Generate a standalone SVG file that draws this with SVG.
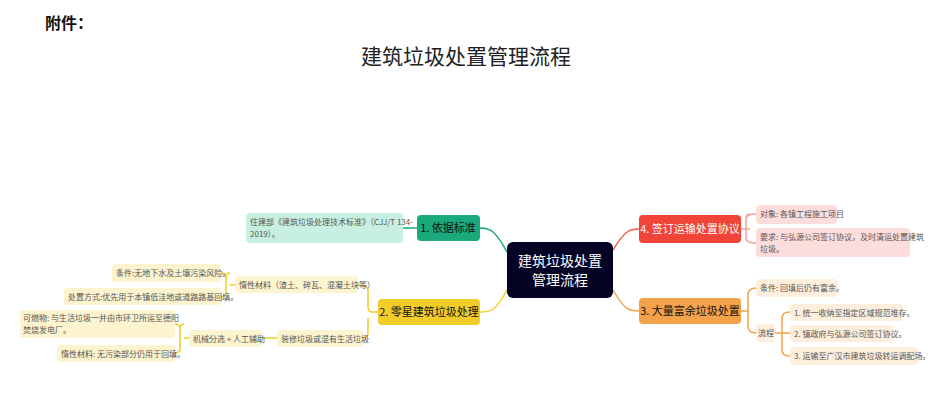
<svg xmlns="http://www.w3.org/2000/svg" width="931" height="419" viewBox="0 0 931 419">
<style>
text{font-family:"Noto Sans CJK SC","Liberation Sans",sans-serif;}
.s{font-size:8px;fill:#555;}
.m{font-size:11px;}
.c{fill:none;stroke-width:1.5;}
</style>
<rect width="931" height="419" fill="#fff"/>
<text x="45" y="29" font-size="16" font-weight="bold" fill="#111">附件：</text>
<text x="466" y="64" font-size="21" text-anchor="middle" fill="#222">建筑垃圾处置管理流程</text>
<g id="connectors">
<path class="c" stroke="#1aa97a" d="M507,252 C495,230 490,228 480,228"/>
<path class="c" stroke="#f2cd2a" d="M507,290 C495,312 490,312 480,312"/>
<path class="c" stroke="#f25a4a" d="M613,250 C625,230 630,229 639,229"/>
<path class="c" stroke="#f4a24a" d="M613,290 C625,311 630,311 639,311"/>
<path class="c" stroke="#1aa97a" d="M417,228 L403,228"/>
<path class="c" stroke="#f2cd2a" d="M378,312 L372,312 Q368,312 368,306 L368,290 Q368,285 358,285 M368,318 L368,333 Q368,338 363,338"/>
<path class="c" stroke="#f2cd2a" d="M235,285 L230,285 M230,273 Q226,273 226,278 L226,292 Q226,297 221,297 M226,278 Q226,273 221,273"/>
<path class="c" stroke="#f2cd2a" d="M277,338 L262,338 M189,338 L184,338 M184,324 Q180,324 180,329 L180,348 Q180,353 175,353 M180,329 Q180,324 175,324"/>
<path class="c" stroke="#f7a0a0" d="M741,229 L750,229 M750,214 Q746,214 746,219 L746,238 Q746,243 756,243 M746,219 Q746,214 756,214"/>
<path class="c" stroke="#f4a24a" d="M741,311 L748,311 M756,288 Q748,288 748,295 L748,326 Q748,333 756,333"/>
<path class="c" stroke="#f4a24a" d="M775,333 L782,333 M790,312 Q782,312 782,318 L782,350 Q782,356 790,356 M782,333 L790,333"/>
</g>
<g id="center"><rect x="507" y="242" width="106" height="56" rx="6" fill="#050425"/>
<text x="560" y="266" font-size="14" fill="#fff" text-anchor="middle">建筑垃圾处置</text><text x="560" y="285" font-size="14" fill="#fff" text-anchor="middle">管理流程</text></g>
<g id="n1"><rect x="417" y="215" width="63" height="26" rx="4" fill="#1aa97a"/><text x="448" y="232" class="m" text-anchor="middle" fill="#111">1. 依据标准</text></g>
<g id="n2"><rect x="378" y="299" width="102" height="26" rx="4" fill="#f2cd2a"/><text x="429" y="316" class="m" text-anchor="middle" fill="#111">2. 零星建筑垃圾处理</text></g>
<g id="n3"><rect x="639" y="298" width="102" height="26" rx="4" fill="#f4a24a"/><text x="690" y="315" class="m" text-anchor="middle" fill="#111">3. 大量富余垃圾处置</text></g>
<g id="n4"><rect x="639" y="215" width="102" height="28" rx="4" fill="#f04438"/><text x="690" y="233" class="m" text-anchor="middle" fill="#fff">4. 签订运输处置协议</text></g>
<g id="l1"><rect x="246" y="213" width="157" height="30" rx="4" fill="#c8f0e2"/><text x="250" y="225" class="s">住建部《建筑垃圾处理技术标准》（CJJ/T 134-</text><text x="250" y="237" class="s">2019）。</text></g>
<g id="l2a"><rect x="235" y="276" width="123" height="17" rx="4" fill="#fcf3cf"/><text x="239" y="288" class="s">惰性材料（渣土、碎瓦、混凝土块等）</text></g>
<g id="l2b"><rect x="277" y="330" width="86" height="17" rx="4" fill="#fcf3cf"/><text x="281" y="342" class="s">装修垃圾或混有生活垃圾</text></g>
<g id="l2a1"><rect x="112" y="264" width="109" height="18" rx="4" fill="#fcf3cf"/><text x="116" y="276" class="s">条件:无地下水及土壤污染风险。</text></g>
<g id="l2a2"><rect x="64" y="288" width="157" height="17" rx="4" fill="#fcf3cf"/><text x="68" y="300" class="s">处置方式:优先用于本镇低洼地或道路路基回填。</text></g>
<g id="l2b1"><rect x="189" y="330" width="73" height="17" rx="4" fill="#fcf3cf"/><text x="193" y="342" class="s">机械分选 + 人工辅助</text></g>
<g id="l2b1a"><rect x="20" y="310" width="155" height="28" rx="4" fill="#fcf3cf"/><text x="23" y="321" class="s">可燃物: 与生活垃圾一并由市环卫所运至德阳</text><text x="23" y="333" class="s">焚烧发电厂。</text></g>
<g id="l2b1b"><rect x="57" y="345" width="118" height="17" rx="4" fill="#fcf3cf"/><text x="61" y="357" class="s">惰性材料: 无污染部分仍用于回填。</text></g>
<g id="l4a"><rect x="756" y="205" width="81" height="19" rx="4" fill="#fddcdc"/><text x="760" y="217" class="s">对象: 各镇工程施工项目</text></g>
<g id="l4b"><rect x="756" y="228" width="154" height="29" rx="4" fill="#fddcdc"/><text x="760" y="240" class="s">要求: 与弘源公司签订协议，及时清运处置建筑</text><text x="760" y="252" class="s">垃圾。</text></g>
<g id="l3a"><rect x="756" y="279" width="81" height="18" rx="4" fill="#fdeedd"/><text x="760" y="291" class="s">条件: 回填后仍有富余。</text></g>
<g id="l3b"><rect x="756" y="324" width="19" height="18" rx="4" fill="#fdeedd"/><text x="758" y="336" class="s">流程</text></g>
<g id="l3b1"><rect x="790" y="304" width="113" height="17" rx="4" fill="#fdeedd"/><text x="794" y="316" class="s">1. 统一收纳至指定区域规范堆存。</text></g>
<g id="l3b2"><rect x="790" y="325" width="103" height="17" rx="4" fill="#fdeedd"/><text x="794" y="337" class="s">2. 镇政府与弘源公司签订协议。</text></g>
<g id="l3b3"><rect x="790" y="347" width="128" height="18" rx="4" fill="#fdeedd"/><text x="794" y="359" class="s">3. 运输至广汉市建筑垃圾转运调配场。</text></g>
</svg>
